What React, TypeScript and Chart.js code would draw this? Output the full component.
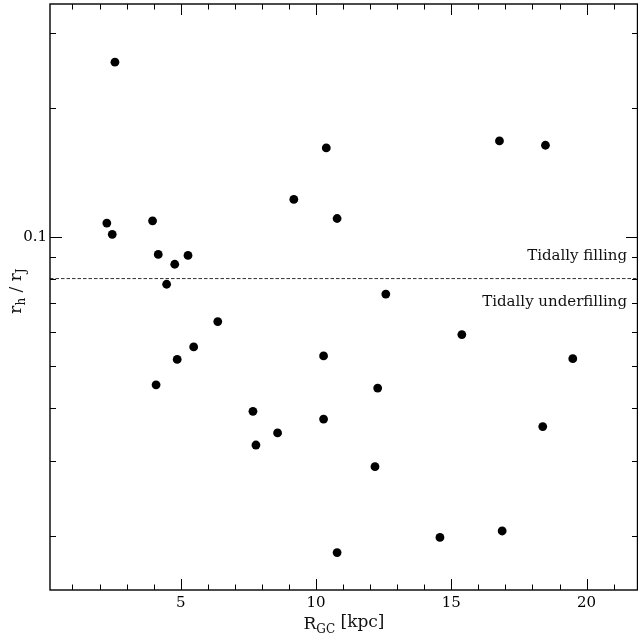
import { useEffect, useRef } from 'react';
import { Chart, registerables } from 'chart.js';

Chart.register(...registerables);

// Galactocentric distance [kpc]
const rgc = [
  2.57, 2.27, 2.47, 3.96, 4.17, 4.78, 5.27, 4.48, 6.37, 5.48, 4.87, 4.09,
  7.67, 7.78, 8.58, 9.18, 10.38, 10.78, 10.28, 10.28, 10.78, 12.18, 12.28,
  12.58, 14.58, 15.39, 16.78, 16.88, 18.48, 18.38, 19.49,
];
// Half-mass radius over Jacobi radius
const rhOverRj = [
  0.256, 0.1078, 0.1015, 0.1091, 0.0911, 0.0864, 0.0906, 0.0776, 0.0635,
  0.0554, 0.0518, 0.0452, 0.0392, 0.0327, 0.0349, 0.1224, 0.1615, 0.1105,
  0.0528, 0.0376, 0.01834, 0.0291, 0.0444, 0.0736, 0.0199, 0.0592, 0.1677,
  0.0206, 0.1638, 0.0361, 0.052,
];

const xTickValues = [1, 2, 3, 4, 5, 6, 7, 8, 9, 10, 11, 12, 13, 14, 15, 16, 17, 18, 19, 20, 21];
const xMajorTicks = [5, 10, 15, 20];
const yTickValues = [0.02, 0.03, 0.04, 0.05, 0.06, 0.07, 0.08, 0.09, 0.1, 0.2, 0.3];
const yMajorTicks = [0.1];
const thresholdValue = 0.08;
const annotationTexts = ['Tidally filling', 'Tidally underfilling'];

const X_MIN = 0.17;
const X_MAX = 21.9;
const Y_MIN = 0.015;
const Y_MAX = 0.35;

const FONT = '"DejaVu Serif", "Liberation Serif", serif';

const framePlugin = {
  id: 'framePlugin',
  afterDraw(chart: any) {
    const { ctx, chartArea: a, scales } = chart;
    const xs = scales.x;
    const ys = scales.y;
    ctx.save();
    ctx.strokeStyle = '#000';
    ctx.lineWidth = 1;
    xs.ticks.forEach((t: any) => {
      const px = Math.round(xs.getPixelForValue(t.value)) + 0.5;
      const len = xMajorTicks.includes(t.value) ? 11 : 5.5;
      ctx.beginPath();
      ctx.moveTo(px, a.bottom);
      ctx.lineTo(px, a.bottom - len);
      ctx.moveTo(px, a.top);
      ctx.lineTo(px, a.top + len);
      ctx.stroke();
    });
    ys.ticks.forEach((t: any) => {
      const py = Math.round(ys.getPixelForValue(t.value)) + 0.5;
      const len = yMajorTicks.includes(t.value) ? 12 : 6;
      ctx.beginPath();
      ctx.moveTo(a.left, py);
      ctx.lineTo(a.left + len, py);
      ctx.moveTo(a.right, py);
      ctx.lineTo(a.right - len, py);
      ctx.stroke();
    });
    ctx.lineWidth = 1.4;
    ctx.strokeRect(a.left, a.top, a.right - a.left - 0.5, a.bottom - a.top);

    const ty = ys.getPixelForValue(thresholdValue);
    ctx.fillStyle = '#111';
    ctx.font = `15px ${FONT}`;
    ctx.textAlign = 'right';
    ctx.textBaseline = 'middle';
    ctx.fillText(annotationTexts[0], a.right - 11, ty - 22);
    ctx.fillText(annotationTexts[1], a.right - 11, ty + 24);

    const big = `17px ${FONT}`;
    const small = `12px ${FONT}`;
    ctx.textBaseline = 'alphabetic';
    ctx.textAlign = 'left';
    ctx.font = big;
    const wR = ctx.measureText('R').width;
    const wRest = ctx.measureText(' [kpc]').width;
    ctx.font = small;
    const wGC = ctx.measureText('GC').width;
    const total = wR + wGC + wRest;
    let cx = (a.left + a.right) / 2 - total / 2;
    const by = 629;
    ctx.font = big;
    ctx.fillText('R', cx, by);
    cx += wR;
    ctx.font = small;
    ctx.fillText('GC', cx, by + 4);
    cx += wGC;
    ctx.font = big;
    ctx.fillText(' [kpc]', cx, by - 2);

    ctx.translate(21, (a.top + a.bottom) / 2 - 6);
    ctx.rotate(-Math.PI / 2);
    const parts: [string, boolean][] = [['r', false], ['h', true], [' / r', false], ['J', true]];
    let tw = 0;
    parts.forEach(([s, sub]) => {
      ctx.font = sub ? small : big;
      tw += ctx.measureText(s).width;
    });
    let tx = -tw / 2;
    parts.forEach(([s, sub]) => {
      ctx.font = sub ? small : big;
      ctx.fillText(s, tx, sub ? 4 : 0);
      tx += ctx.measureText(s).width;
    });
    ctx.restore();
  },
};

export default function App() {
  const ref = useRef<HTMLCanvasElement | null>(null);
  useEffect(() => {
    if (!ref.current) return;
    const chart = new Chart(ref.current, {
      type: 'scatter',
      data: {
        datasets: [
          {
            type: 'line',
            data: [
              { x: X_MIN, y: thresholdValue },
              { x: X_MAX, y: thresholdValue },
            ],
            borderColor: '#333',
            borderWidth: 1,
            borderDash: [3.5, 2],
            pointRadius: 0,
            fill: false,
          } as any,
          {
            data: rgc.map((x, i) => ({ x, y: rhOverRj[i] })),
            backgroundColor: '#000',
            borderWidth: 0,
            pointRadius: 4.4,
          },
        ],
      },
      options: {
        animation: false,
        responsive: false,
        devicePixelRatio: 1,
        layout: { autoPadding: false, padding: { top: 4, right: 0, left: 0, bottom: 0 } },
        plugins: { legend: { display: false }, tooltip: { enabled: false } },
        scales: {
          x: {
            type: 'linear',
            min: X_MIN,
            max: X_MAX,
            border: { display: false },
            grid: { display: false, drawTicks: false },
            afterBuildTicks: (s: any) => {
              s.ticks = xTickValues.map((v) => ({ value: v }));
            },
            afterFit: (s: any) => {
              s.height = 49;
              s.paddingLeft = 0;
              s.paddingRight = 0;
              s.paddingTop = 0;
              s.paddingBottom = 0;
            },
            ticks: {
              autoSkip: false,
              maxRotation: 0,
              padding: 4,
              color: '#000',
              font: { family: FONT, size: 15 },
              callback: (v: any) => (xMajorTicks.includes(Number(v)) ? String(v) : ''),
            },
          },
          y: {
            type: 'logarithmic',
            min: Y_MIN,
            max: Y_MAX,
            border: { display: false },
            grid: { display: false, drawTicks: false },
            afterBuildTicks: (s: any) => {
              s.ticks = yTickValues.map((v) => ({ value: v }));
            },
            afterFit: (s: any) => {
              s.width = 50;
              s.paddingLeft = 0;
              s.paddingRight = 0;
              s.paddingTop = 0;
              s.paddingBottom = 0;
            },
            ticks: {
              autoSkip: false,
              padding: 3,
              color: '#000',
              font: { family: FONT, size: 15 },
              callback: (v: any) => (yMajorTicks.includes(Number(v)) ? String(v) : ''),
            },
          },
        },
      },
      plugins: [framePlugin],
    });
    return () => chart.destroy();
  }, []);
  return (
    <div style={{ position: 'fixed', left: 0, top: 0, width: 638, height: 639, background: '#fff' }}>
      <canvas ref={ref} width={638} height={639} style={{ display: 'block' }} />
    </div>
  );
}
